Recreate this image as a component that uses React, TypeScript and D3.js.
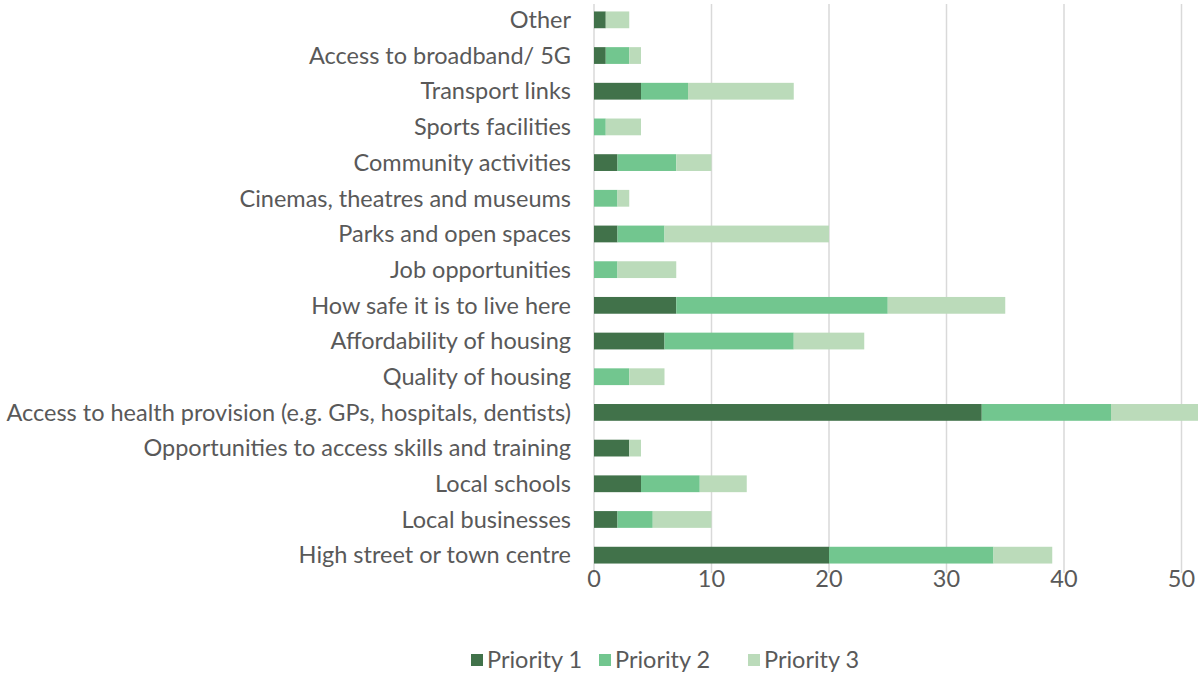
import React from "react";
import * as d3 from "d3";

const categories = [
  "Other",
  "Access to broadband/ 5G",
  "Transport links",
  "Sports facilities",
  "Community activities",
  "Cinemas, theatres and museums",
  "Parks and open spaces",
  "Job opportunities",
  "How safe it is to live here",
  "Affordability of housing",
  "Quality of housing",
  "Access to health provision (e.g. GPs, hospitals, dentists)",
  "Opportunities to access skills and training",
  "Local schools",
  "Local businesses",
  "High street or town centre",
];
const priority1 = [1, 1, 4, 0, 2, 0, 2, 0, 7, 6, 0, 33, 3, 4, 2, 20];
const priority2 = [0, 2, 4, 1, 5, 2, 4, 2, 18, 11, 3, 11, 0, 5, 3, 14];
const priority3 = [2, 1, 9, 3, 3, 1, 14, 5, 10, 6, 3, 9, 1, 4, 5, 5];
const seriesNames = ["Priority 1", "Priority 2", "Priority 3"];
const xTicks = [0, 10, 20, 30, 40, 50];

const colors = ["#41724a", "#72c68f", "#bbdbba"];
const textColor = "#595959";
const font = "Lato, 'Open Sans', sans-serif";
const fs = 23.5;

export default function App() {
  const W = 1198;
  const H = 675;
  const x = d3.scaleLinear().domain([0, 60]).range([594, 594 + 6 * 117.5]);
  const y = d3
    .scaleBand<string>()
    .domain(categories)
    .range([2, 573])
    .paddingInner(0.53)
    .paddingOuter(0.265);

  const rows = categories.map((c, i) => ({
    cat: c,
    p1: priority1[i],
    p2: priority2[i],
    p3: priority3[i],
  }));
  const stack = d3.stack<any>().keys(["p1", "p2", "p3"])(rows);

  const legendItems = [
    { name: seriesNames[0], sx: 471 },
    { name: seriesNames[1], sx: 599 },
    { name: seriesNames[2], sx: 748 },
  ];

  return (
    <svg
      width={W}
      height={H}
      style={{ position: "fixed", left: 0, top: 0, background: "#fff", overflow: "hidden" }}
    >
      <rect x={0} y={0} width={W} height={H} fill="#fff" />
      {xTicks.map((t) => (
        <line
          key={"g" + t}
          x1={x(t)}
          x2={x(t)}
          y1={4}
          y2={573}
          stroke="#d9d9d9"
          strokeWidth={1.5}
        />
      ))}
      {stack.map((s, si) =>
        s.map((d: any, i: number) => {
          const w = x(d[1]) - x(d[0]);
          if (w <= 0) return null;
          return (
            <rect
              key={si + "-" + i}
              x={x(d[0])}
              y={y(categories[i])!}
              width={w}
              height={y.bandwidth()}
              fill={colors[si]}
            />
          );
        })
      )}
      {categories.map((c) => (
        <text
          key={"l" + c}
          x={571}
          y={y(c)! + y.bandwidth() / 2}
          dy="0.35em"
          textAnchor="end"
          fontFamily={font}
          fontSize={fs}
          fill={textColor}
        >
          {c}
        </text>
      ))}
      {xTicks.map((t) => (
        <text
          key={"t" + t}
          x={x(t)}
          y={587}
          textAnchor="middle"
          fontFamily={font}
          fontSize={fs}
          fill={textColor}
        >
          {t}
        </text>
      ))}
      {legendItems.map((l, i) => (
        <g key={"lg" + i}>
          <rect x={l.sx} y={654} width={12} height={12} fill={colors[i]} />
          <text
            x={l.sx + 16}
            y={668}
            fontFamily={font}
            fontSize={fs}
            fill={textColor}
          >
            {l.name}
          </text>
        </g>
      ))}
    </svg>
  );
}
